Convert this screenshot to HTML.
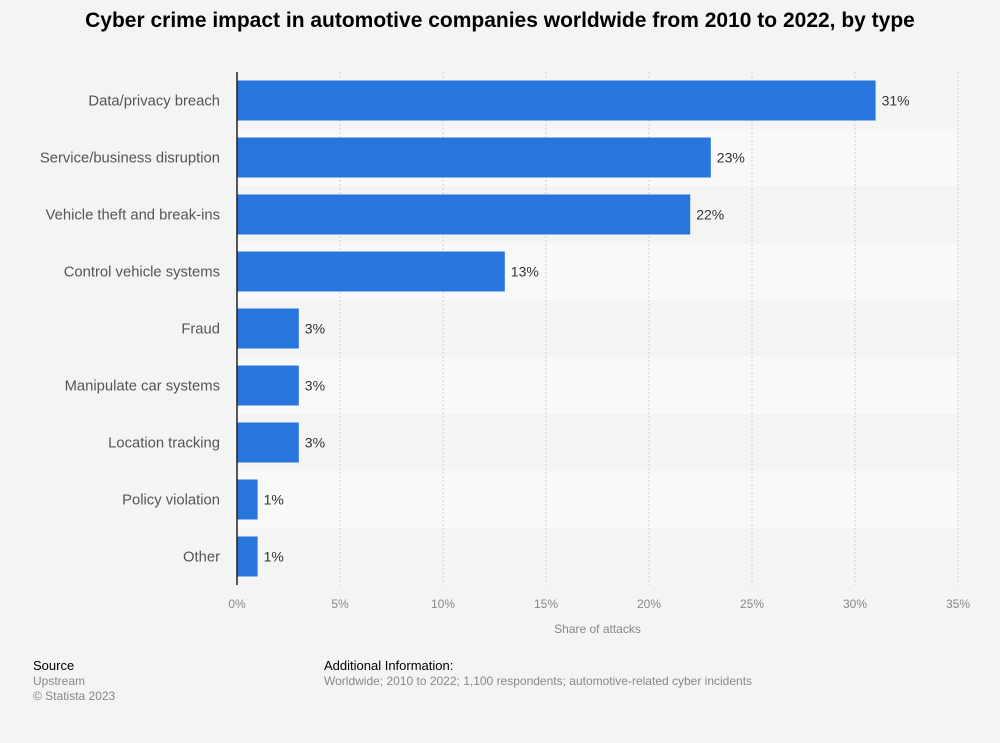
<!DOCTYPE html>
<html><head><meta charset="utf-8"><style>
body{margin:0;background:#f4f4f4;font-family:"Liberation Sans",sans-serif;}
#wrap{position:relative;width:1000px;height:743px;overflow:hidden;background:#f4f4f4}
.t{position:absolute;white-space:nowrap}
</style></head><body>
<div id="wrap">
<div class="t" style="left:0;width:1000px;text-align:center;top:9px;font-size:21px;font-weight:bold;color:#000">Cyber crime impact in automotive companies worldwide from 2010 to 2022, by type</div>
<svg id="chart" width="1000" height="743" style="position:absolute;left:0;top:0"></svg>
<div class="t" style="left:33px;top:658px;font-size:13px;color:#000">Source</div>
<div class="t" style="left:33px;top:674px;font-size:12px;color:#888">Upstream</div>
<div class="t" style="left:33px;top:689px;font-size:12px;color:#888">© Statista 2023</div>
<div class="t" style="left:324px;top:658px;font-size:13px;color:#000">Additional Information:</div>
<div class="t" style="left:324px;top:674px;font-size:12px;color:#888">Worldwide; 2010 to 2022; 1,100 respondents; automotive-related cyber incidents</div>
</div>
<script>
const categories=["Data/privacy breach","Service/business disruption","Vehicle theft and break-ins","Control vehicle systems","Fraud","Manipulate car systems","Location tracking","Policy violation","Other"];
const values=[31,23,22,13,3,3,3,1,1];
const ticks=[0,5,10,15,20,25,30,35];
const NS="http://www.w3.org/2000/svg";
const svg=document.getElementById('chart');
const x0=237,x1=958,maxV=35,top0=72,rowH=57,barH=40;
const xs=v=>x0+(v/maxV)*(x1-x0);
const ys=i=>top0+i*rowH;
function mk(t,a){const e=document.createElementNS(NS,t);for(const k in a)e.setAttribute(k,a[k]);svg.appendChild(e);return e;}
categories.forEach((c,i)=>{
 if(i%2===1){const b=mk('rect',{x:x0,y:ys(i),width:x1-x0+2,height:rowH,fill:'#f9f9f9'});
 
 }
});
ticks.forEach(t=>{
 if(t>0){const g=mk('line',{x1:xs(t),x2:xs(t),y1:top0,y2:top0+rowH*categories.length,stroke:'#cfcfcf','stroke-dasharray':'2,2'});
 
 }
 const l=mk('text',{x:xs(t),y:608,'text-anchor':'middle','font-size':12,fill:'#888'});
 l.textContent=t+'%';
 
 
});
categories.forEach((c,i)=>{
 const y=ys(i)+(rowH-barH)/2;
 const b=mk('rect',{x:x0,y:y,width:xs(values[i])-x0,height:barH,fill:'#2876dd'});
 
 
 const l=mk('text',{x:220,y:ys(i)+rowH/2+5,'text-anchor':'end','font-size':14.8,fill:'#555'});
 l.textContent=c;
 
 
 const v=mk('text',{x:xs(values[i])+6,y:ys(i)+rowH/2+5,'font-size':14,fill:'#333'});
 v.textContent=values[i]+'%';
 
 
});
const ax=mk('line',{x1:x0,x2:x0,y1:top0,y2:top0+rowH*categories.length,stroke:'#222','stroke-width':1.5});


const at=mk('text',{x:(x0+x1)/2,y:633,'text-anchor':'middle','font-size':12,fill:'#888'});
at.textContent='Share of attacks';


</script>
</body></html>
